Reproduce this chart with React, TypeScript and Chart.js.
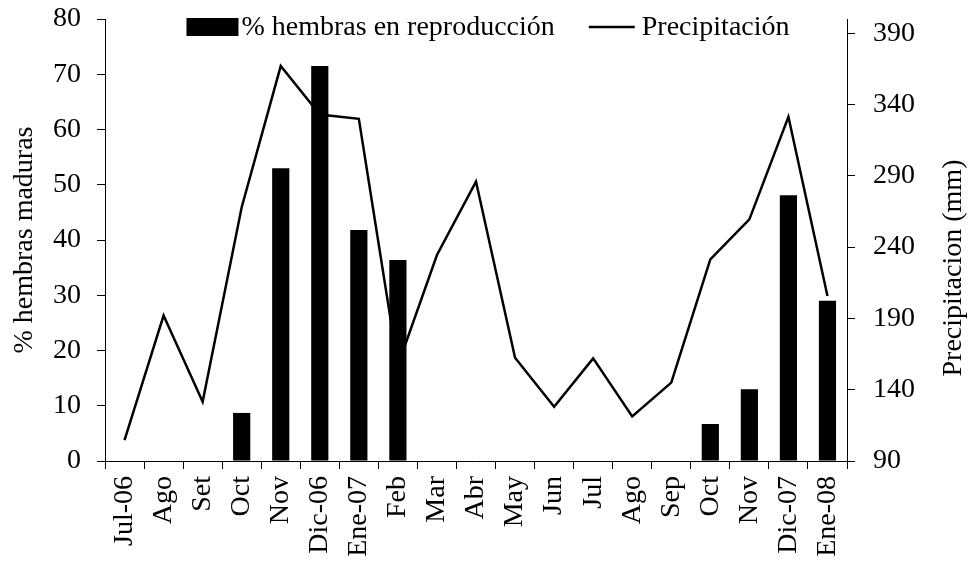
import React, { useEffect, useRef } from "react";
import { Chart, registerables } from "chart.js";

Chart.register(...registerables);

const categories = [
  "Jul-06", "Ago", "Set", "Oct", "Nov", "Dic-06", "Ene-07", "Feb", "Mar", "Abr",
  "May", "Jun", "Jul", "Ago", "Sep", "Oct", "Nov", "Dic-07", "Ene-08",
];
const hembrasReproduccion = [
  0, 0, 0, 8.7, 53.0, 71.5, 41.8, 36.4, 0, 0, 0, 0, 0, 0, 0, 6.7, 13.0, 48.1, 29.0,
];
const precipitacion = [
  104.7, 192, 131.6, 268, 367, 333, 330, 157, 234.5, 286, 162.4, 128, 162, 121.3,
  145, 231.4, 259.5, 331.4, 205.7,
];
const leftTicks = [0, 10, 20, 30, 40, 50, 60, 70, 80];
const rightTicks = [90, 140, 190, 240, 290, 340, 390];
const leftTitle = "% hembras maduras";
const rightTitle = "Precipitacion (mm)";
const legendBarLabel = "% hembras en reproducción";
const legendLineLabel = "Precipitación";

const FONT = "'Liberation Serif', 'Times New Roman', serif";
const FS = 28;

const decorPlugin = {
  id: "decor",
  afterDraw(chart: any) {
    const ctx = chart.ctx as CanvasRenderingContext2D;
    const area = chart.chartArea;
    ctx.save();
    ctx.font = `${FS}px ${FONT}`;
    ctx.fillStyle = "#000";
    ctx.strokeStyle = "#000";
    // right axis title, reading bottom to top
    ctx.save();
    ctx.translate(chart.width - 17, (area.top + area.bottom) / 2 + 28);
    ctx.rotate(-Math.PI / 2);
    ctx.textAlign = "center";
    ctx.textBaseline = "middle";
    ctx.fillText(rightTitle, 0, 0);
    ctx.restore();

    // legend inside the top of the plot
    const boxW = 52;
    const boxH = 18;
    const lineW = 46;
    const w1 = ctx.measureText(legendBarLabel).width;
    const w2 = ctx.measureText(legendLineLabel).width;
    const total = boxW + 3 + w1 + 34 + lineW + 7 + w2;
    let x = 488 - total / 2;
    const cy = area.top + 8;
    ctx.fillRect(x, cy - boxH / 2, boxW, boxH);
    x += boxW + 3;
    ctx.textAlign = "left";
    ctx.textBaseline = "middle";
    ctx.fillText(legendBarLabel, x, cy + 1);
    x += w1 + 34;
    ctx.lineWidth = 2.5;
    ctx.beginPath();
    ctx.moveTo(x, cy);
    ctx.lineTo(x + lineW, cy);
    ctx.stroke();
    x += lineW + 7;
    ctx.fillText(legendLineLabel, x, cy + 1);
    ctx.restore();
  },
};

export default function App() {
  const ref = useRef<HTMLCanvasElement | null>(null);

  useEffect(() => {
    if (!ref.current) return;
    const chart = new Chart(ref.current, {
      type: "bar",
      data: {
        labels: categories,
        datasets: [
          {
            type: "bar",
            label: legendBarLabel,
            data: hembrasReproduccion,
            backgroundColor: "#000",
            borderWidth: 0,
            barPercentage: 0.44,
            categoryPercentage: 1,
            yAxisID: "y",
            order: 0,
          },
          {
            type: "line",
            label: legendLineLabel,
            data: precipitacion,
            borderColor: "#000",
            backgroundColor: "#000",
            borderWidth: 2.5,
            pointRadius: 0,
            tension: 0,
            borderJoinStyle: "miter",
            yAxisID: "y1",
            order: 1,
          } as any,
        ],
      },
      options: {
        animation: false,
        responsive: false,
        maintainAspectRatio: false,
        layout: { padding: { left: 4, right: 56, top: 19, bottom: 10 } },
        plugins: {
          legend: { display: false },
          tooltip: { enabled: false },
        },
        scales: {
          x: {
            offset: true,
            afterFit: (s: any) => {
              s.height = 95;
              s.paddingLeft = 0;
              s.paddingRight = 0;
            },
            grid: {
              offset: true,
              drawOnChartArea: false,
              drawTicks: true,
              tickLength: 8,
              color: "#000",
            },
            border: { display: true, color: "#000", width: 1 },
            ticks: {
              color: "#000",
              font: { family: FONT, size: FS },
              minRotation: 90,
              maxRotation: 90,
              autoSkip: false,
              padding: 7,
            },
          },
          y: {
            position: "left",
            min: 0,
            max: 80,
            afterBuildTicks: (s: any) => {
              s.ticks = leftTicks.map((v) => ({ value: v }));
            },
            afterFit: (s: any) => {
              s.width = 101;
              s.paddingTop = 0;
              s.paddingBottom = 0;
            },
            grid: {
              drawOnChartArea: false,
              drawTicks: true,
              tickLength: 8,
              color: "#000",
            },
            border: { display: true, color: "#000", width: 1 },
            ticks: {
              color: "#000",
              font: { family: FONT, size: FS },
              padding: 16,
            },
            title: {
              display: true,
              text: leftTitle,
              color: "#000",
              font: { family: FONT, size: FS },
              padding: { top: 4, bottom: 12 },
            },
          },
          y1: {
            position: "right",
            min: 90,
            max: 400,
            afterBuildTicks: (s: any) => {
              s.ticks = rightTicks.map((v) => ({ value: v }));
            },
            afterFit: (s: any) => {
              s.width = 68;
              s.paddingTop = 0;
              s.paddingBottom = 0;
            },
            grid: {
              drawOnChartArea: false,
              drawTicks: true,
              tickLength: 8,
              color: "#000",
            },
            border: { display: true, color: "#000", width: 1 },
            ticks: {
              color: "#000",
              font: { family: FONT, size: FS },
              padding: 18,
            },
          },
        },
      },
      plugins: [decorPlugin],
    });
    return () => chart.destroy();
  }, []);

  return (
    <div style={{ position: "absolute", left: 0, top: 0, width: 971, height: 566, background: "#fff" }}>
      <canvas ref={ref} width={971} height={566} style={{ width: 971, height: 566 }} />
    </div>
  );
}
